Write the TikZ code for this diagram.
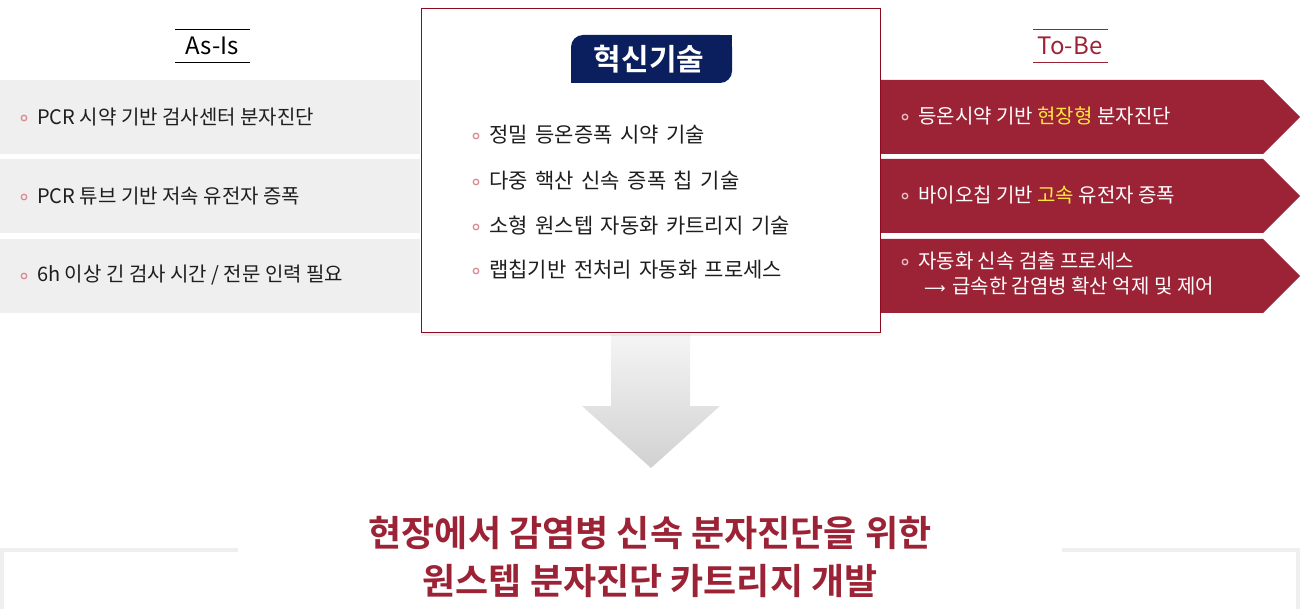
\documentclass[tikz,border=0pt]{standalone}
\usepackage{fontspec}
\setmainfont{Noto Sans CJK KR}[BoldFont=* Bold]
\newfontfamily\cfont{Noto Sans CJK KR}[WordSpace=1.6]
\newfontfamily\arrowfont{DejaVu Sans}
\usetikzlibrary{shadows}
\definecolor{rowgray}{HTML}{EFEFEF}
\definecolor{tobered}{HTML}{9C2336}
\definecolor{boxred}{HTML}{8B0A1E}
\definecolor{navy}{HTML}{0B1F5E}
\definecolor{bulletpink}{HTML}{D98A97}
\definecolor{bulletlite}{HTML}{E6C3C9}
\definecolor{hiyellow}{HTML}{FFE83B}
\definecolor{txt}{HTML}{1E1E1E}
\definecolor{framegray}{HTML}{EFEFEF}
\begin{document}
\begin{tikzpicture}[x=1pt,y=-1pt,
  body/.style={anchor=west, inner sep=0pt, text=txt, font=\fontsize{20}{24}\selectfont},
  cbody/.style={anchor=west, inner sep=0pt, text=txt, font=\cfont\fontsize{21}{24}\selectfont},
  bodyw/.style={anchor=west, inner sep=0pt, text=white, font=\fontsize{20}{24}\selectfont},
  dotp/.style={circle, draw=bulletpink, line width=1.3pt, inner sep=0pt, minimum size=5.5pt},
  dotw/.style={circle, draw=bulletlite, line width=1.3pt, inner sep=0pt, minimum size=5.5pt},
  head/.style={inner sep=0pt, font=\fontsize{24}{27}\selectfont},
  title/.style={inner sep=0pt, text=tobered, font=\bfseries\fontsize{36}{40}\selectfont}
]
\useasboundingbox (0,0) rectangle (1300,609);

% ---------- As-Is heading ----------
\node[head, text=black] (asis) at (212,46) {As-Is};
\draw[line width=1pt] (175,30) -- (250,30);
\draw[line width=1pt] (175,63) -- (250,63);

% ---------- To-Be heading ----------
\node[head, text=tobered] (tobe) at (1070,46) {To-Be};
\draw[tobered, line width=1pt] (1033,30) -- (1108,30);
\draw[tobered, line width=1pt] (1033,63) -- (1108,63);

% ---------- As-Is rows ----------
\fill[rowgray] (0,80) rectangle (420,154);
\fill[rowgray] (0,159) rectangle (420,233);
\fill[rowgray] (0,239) rectangle (420,313);
\node[dotp] (ad1) at (24,118) {};
\node[body] (a1) at (37,117) {PCR 시약 기반 검사센터 분자진단};
\node[dotp] (ad2) at (24,197) {};
\node[body] (a2) at (37,196) {PCR 튜브 기반 저속 유전자 증폭};
\node[dotp] (ad3) at (24,276) {};
\node[body] (a3) at (37,275) {6h 이상 긴 검사 시간 / 전문 인력 필요};

% ---------- To-Be rows ----------
\fill[tobered] (870,80) -- (1263,80) -- (1300,117) -- (1263,154) -- (870,154) -- cycle;
\fill[tobered] (870,159) -- (1263,159) -- (1300,196) -- (1263,233) -- (870,233) -- cycle;
\fill[tobered] (870,239) -- (1263,239) -- (1300,276) -- (1263,313) -- (870,313) -- cycle;
\node[dotw] (bd1) at (905,117) {};
\node[bodyw] (b1) at (918,116) {등온시약 기반 \textcolor{hiyellow}{현장형} 분자진단};
\node[dotw] (bd2) at (905,196) {};
\node[bodyw] (b2) at (918,195) {바이오칩 기반 \textcolor{hiyellow}{고속} 유전자 증폭};
\node[dotw] (bd3) at (905,262) {};
\node[bodyw] (b3) at (918,261) {자동화 신속 검출 프로세스};
\node[bodyw] (b4) at (924,286) {\makebox[28pt][l]{\arrowfont\fontsize{15}{15}\selectfont ⟶}급속한 감염병 확산 억제 및 제어};

% ---------- down arrow ----------
\shade[top color=white!96!black, bottom color=white!82!black]
  (611,334) -- (690,334) -- (690,406) -- (720,406) -- (651,468) -- (582,406) -- (611,406) -- cycle;

% ---------- centre box ----------
\node[draw=boxred, line width=1pt, fill=white, minimum width=459pt, minimum height=323pt,
      anchor=north west, inner sep=0pt,
      drop shadow={opacity=0.12, shadow xshift=0pt, shadow yshift=-4pt}] (core) at (420.5,8.5) {};
\fill[navy, rounded corners=12pt] (571,35) rectangle (732,83);
\fill[navy] (700,35) rectangle (732,60);
\fill[navy] (571,58) rectangle (603,83);
\node[inner sep=0pt, text=white, font=\bfseries\fontsize{30}{32}\selectfont] (tech) at (649,59) {혁신기술};
\node[dotp] (cd1) at (476,136) {};
\node[cbody] (c1) at (489,135) {정밀 등온증폭 시약 기술};
\node[dotp] (cd2) at (476,182) {};
\node[cbody] (c2) at (489,181) {다중 핵산 신속 증폭 칩 기술};
\node[dotp] (cd3) at (476,227) {};
\node[cbody] (c3) at (489,226) {소형 원스텝 자동화 카트리지 기술};
\node[dotp] (cd4) at (476,271) {};
\node[cbody] (c4) at (489,270) {랩칩기반 전처리 자동화 프로세스};

% ---------- bottom frame ----------
\fill[framegray] (0,548) rectangle (238,552);
\fill[framegray] (1062,548) rectangle (1300,552);
\fill[framegray] (0,548) rectangle (4,609);
\fill[framegray] (1296,548) rectangle (1300,609);

% ---------- conclusion ----------
\node[title] (t1) at (650,533) {현장에서 감염병 신속 분자진단을 위한};
\node[title] (t2) at (650,581) {원스텝 분자진단 카트리지 개발};
\end{tikzpicture}
\end{document}
